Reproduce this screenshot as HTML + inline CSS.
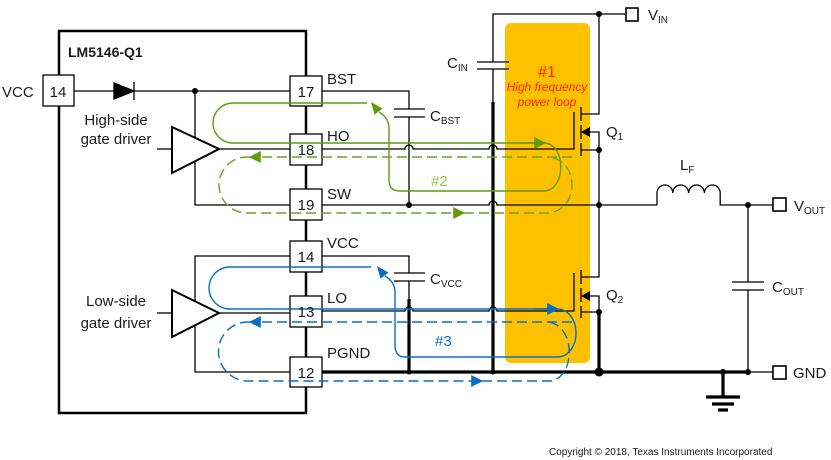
<!DOCTYPE html>
<html><head><meta charset="utf-8"><style>
html,body{margin:0;padding:0;background:#fff;}
svg{display:block;font-family:"Liberation Sans",Arial,sans-serif;}
</style></head><body>
<svg width="831" height="460" viewBox="0 0 831 460" xmlns="http://www.w3.org/2000/svg">
<defs>
<marker id="ag" viewBox="0 0 10 10" refX="9" refY="5" markerWidth="14" markerHeight="12" orient="auto" markerUnits="userSpaceOnUse"><path d="M0,0 L10,5 L0,10z" fill="#5f9a10"/></marker>
<marker id="ab" viewBox="0 0 10 10" refX="9" refY="5" markerWidth="14" markerHeight="12" orient="auto" markerUnits="userSpaceOnUse"><path d="M0,0 L10,5 L0,10z" fill="#0a6fc2"/></marker>
</defs>
<rect x="505" y="23" width="85" height="340" rx="6" fill="#FFC000"/>
<text x="547" y="77" font-size="16" fill="#ff2a00" text-anchor="middle">#1</text>
<text x="547" y="91" font-size="12" font-style="italic" fill="#ff2a00" text-anchor="middle">High frequency</text>
<text x="547" y="106" font-size="12" font-style="italic" fill="#ff2a00" text-anchor="middle">power loop</text>

<g stroke="#000" fill="none" stroke-width="1.3">
<rect x="59" y="31" width="247" height="382" stroke-width="2.5"/>
<rect x="43" y="75" width="31" height="31" fill="#fff"/>
<line x1="74" y1="91" x2="290" y2="91"/>
<path d="M114,83 L134,91 L114,99z" fill="#000"/>
<line x1="134" y1="82" x2="134" y2="100"/>
<path d="M195,91 V205 H290"/>
<path d="M172,127 L219,149 L172,173z" stroke-width="2" fill="#fff"/>
<line x1="157" y1="149" x2="172" y2="149"/>
<line x1="219" y1="149" x2="290" y2="149"/>
<path d="M290,256 H195 V372 H290"/>
<path d="M172,290 L219,313 L172,337z" stroke-width="2" fill="#fff"/>
<line x1="157" y1="313" x2="172" y2="313"/>
<line x1="219" y1="313" x2="290" y2="313"/>
<rect x="290" y="76" width="32" height="30" fill="#fff"/>
<rect x="290" y="134" width="32" height="31" fill="#fff"/>
<rect x="290" y="189" width="32" height="31" fill="#fff"/>
<rect x="290" y="241" width="32" height="31" fill="#fff"/>
<rect x="290" y="296" width="32" height="31" fill="#fff"/>
<rect x="290" y="357" width="32" height="30" fill="#fff"/>
<path d="M322,91 H409 V109"/>
<line x1="394" y1="109" x2="425" y2="109"/>
<line x1="394" y1="117" x2="425" y2="117"/>
<line x1="409" y1="117" x2="409" y2="205"/>
<path d="M322,149 H405 a4,4 0 0 1 8,0 H489 a4,4 0 0 1 8,0 H574 V112"/>
<path d="M322,205 H489 a4,4 0 0 1 8,0 H657"/>
<path d="M657,205 V193 a7.9,8 0 0 1 15.8,0 a7.9,8 0 0 1 15.8,0 a7.9,8 0 0 1 15.8,0 a7.9,8 0 0 1 15.8,0 V205 H773"/>
<path d="M493,62 V14 H625"/>
<line x1="477" y1="62" x2="509" y2="62"/>
<line x1="477" y1="69" x2="509" y2="69"/>
<line x1="493" y1="69" x2="493" y2="102"/>
<rect x="626" y="8" width="12" height="13" stroke-width="1.6" fill="#fff"/>
<line x1="581" y1="107" x2="581" y2="121"/>
<line x1="581" y1="125" x2="581" y2="139"/>
<line x1="581" y1="143" x2="581" y2="156"/>
<path d="M581,114 H599 V14"/>
<path d="M587,132 H599 V205"/>
<line x1="581" y1="150" x2="599" y2="150"/>
<path d="M322,256 H409 V273"/>
<line x1="394" y1="273" x2="425" y2="273"/>
<line x1="394" y1="281" x2="425" y2="281"/>
<line x1="409" y1="281" x2="409" y2="299"/>
<path d="M322,311 H405 a4,4 0 0 1 8,0 H489 a4,4 0 0 1 8,0 H574 V273"/>
<line x1="581" y1="270" x2="581" y2="284"/>
<line x1="581" y1="288" x2="581" y2="302"/>
<line x1="581" y1="306" x2="581" y2="318"/>
<path d="M581,277 H599 V205"/>
<path d="M587,296 H599 V312"/>
<line x1="581" y1="312" x2="599" y2="312"/>
<rect x="773" y="198" width="13" height="13" stroke-width="1.6" fill="#fff"/>
<line x1="748" y1="205" x2="748" y2="282"/>
<line x1="732" y1="282" x2="764" y2="282"/>
<line x1="732" y1="290" x2="764" y2="290"/>
<line x1="748" y1="290" x2="748" y2="372"/>
<line x1="748" y1="372" x2="773" y2="372"/>
<rect x="773" y="366" width="13" height="13" stroke-width="1.6" fill="#fff"/>
</g>
<g stroke="#000" stroke-width="3.2" fill="none">
<line x1="322" y1="372" x2="748" y2="372"/>
<line x1="493" y1="102" x2="493" y2="372"/>
<line x1="409" y1="299" x2="409" y2="372"/>
<line x1="599" y1="312" x2="599" y2="372"/>
<line x1="723" y1="372" x2="723" y2="397"/>
<line x1="706" y1="397" x2="740" y2="397"/>
<line x1="712" y1="404" x2="734" y2="404"/>
<line x1="718" y1="410" x2="728" y2="410"/>
</g>
<path d="M581,132 L590,127 L590,137z" fill="#000"/>
<path d="M581,296 L590,291 L590,301z" fill="#000"/>
<g fill="#000">
<circle cx="195" cy="91" r="3"/>
<circle cx="409" cy="205" r="3"/>
<circle cx="599" cy="14" r="3"/>
<circle cx="599" cy="150" r="3"/>
<circle cx="599" cy="205" r="3"/>
<circle cx="748" cy="205" r="3"/>
<circle cx="599" cy="312" r="3"/>
<circle cx="409" cy="372" r="2.5"/>
<circle cx="493" cy="372" r="2.5"/>
<circle cx="599" cy="372" r="4.5"/>
<circle cx="723" cy="372" r="3"/>
<circle cx="748" cy="372" r="3"/>
</g>
<g fill="none" stroke="#5f9a10" stroke-width="1.4">
<path d="M367,103 H233 a20,20 0 0 0 0,40 H545"/>
<path d="M520,143 H545" marker-end="url(#ag)"/>
<path d="M545,143 C566,145 566,189 545,191 H400 Q389,191 389,180 V128 Q389,118 379,112"/>
</g>
<path d="M371,102 L382.5,108.5 L374.5,114.8z" fill="#5f9a10"/>
<g fill="none" stroke="#6ea12a" stroke-width="1.4" stroke-dasharray="10,5">
<path d="M572,157 H250" marker-end="url(#ag)"/>
<path d="M250,157 H247 a28,28 0 0 0 0,56 H464" marker-end="url(#ag)"/>
<path d="M464,213 H548 C580,210 580,160 548,157"/>
</g>
<g fill="none" stroke="#0a6fc2" stroke-width="1.4">
<path d="M371,267 H230 a21,21 0 0 0 0,42 H558"/>
<path d="M535,309 H558" marker-end="url(#ab)"/>
<path d="M558,309 C582,311 582,355 558,357 H405 Q395,357 395,345 V292 Q395,282 385,276"/>
</g>
<path d="M377,266 L388.5,272.5 L380.5,278.8z" fill="#0a6fc2"/>
<g fill="none" stroke="#0a6fc2" stroke-width="1.4" stroke-dasharray="10,5">
<path d="M572,322 H250" marker-end="url(#ab)"/>
<path d="M250,322 H248 a29.5,29.5 0 0 0 0,59 H482" marker-end="url(#ab)"/>
<path d="M482,381 H550 C576,378 576,325 548,322"/>
</g>
<g font-size="15" fill="#1a1a1a">
<text x="68" y="57" font-weight="bold" font-size="14">LM5146-Q1</text>
<text x="2" y="97">VCC</text>
<text x="58" y="97" text-anchor="middle">14</text>
<text x="306" y="97" text-anchor="middle">17</text>
<text x="306" y="155" text-anchor="middle">18</text>
<text x="306" y="210" text-anchor="middle">19</text>
<text x="306" y="262" text-anchor="middle">14</text>
<text x="306" y="317" text-anchor="middle">13</text>
<text x="306" y="378" text-anchor="middle">12</text>
<text x="327" y="84">BST</text>
<text x="327" y="141">HO</text>
<text x="327" y="199">SW</text>
<text x="327" y="248">VCC</text>
<text x="327" y="303">LO</text>
<text x="327" y="358">PGND</text>
<text x="116" y="125" text-anchor="middle">High-side</text>
<text x="116" y="144" text-anchor="middle">gate driver</text>
<text x="116" y="306" text-anchor="middle">Low-side</text>
<text x="116" y="328" text-anchor="middle">gate driver</text>
<text x="430" y="121">C<tspan font-size="10" dy="3">BST</tspan></text>
<text x="430" y="284">C<tspan font-size="10" dy="3">VCC</tspan></text>
<text x="447" y="68">C<tspan font-size="10" dy="3">IN</tspan></text>
<text x="648" y="20">V<tspan font-size="10" dy="3">IN</tspan></text>
<text x="606" y="137">Q<tspan font-size="10" dy="3">1</tspan></text>
<text x="606" y="300">Q<tspan font-size="10" dy="3">2</tspan></text>
<text x="680" y="170">L<tspan font-size="10" dy="3">F</tspan></text>
<text x="794" y="211">V<tspan font-size="10" dy="3">OUT</tspan></text>
<text x="772" y="292">C<tspan font-size="10" dy="3">OUT</tspan></text>
<text x="793" y="378">GND</text>
<text x="431" y="186" fill="#8dc63f">#2</text>
<text x="435" y="346" fill="#0a6fc2">#3</text>
<text x="549" y="455" font-size="10">Copyright © 2018, Texas Instruments Incorporated</text>
</g>
</svg>
</body></html>
